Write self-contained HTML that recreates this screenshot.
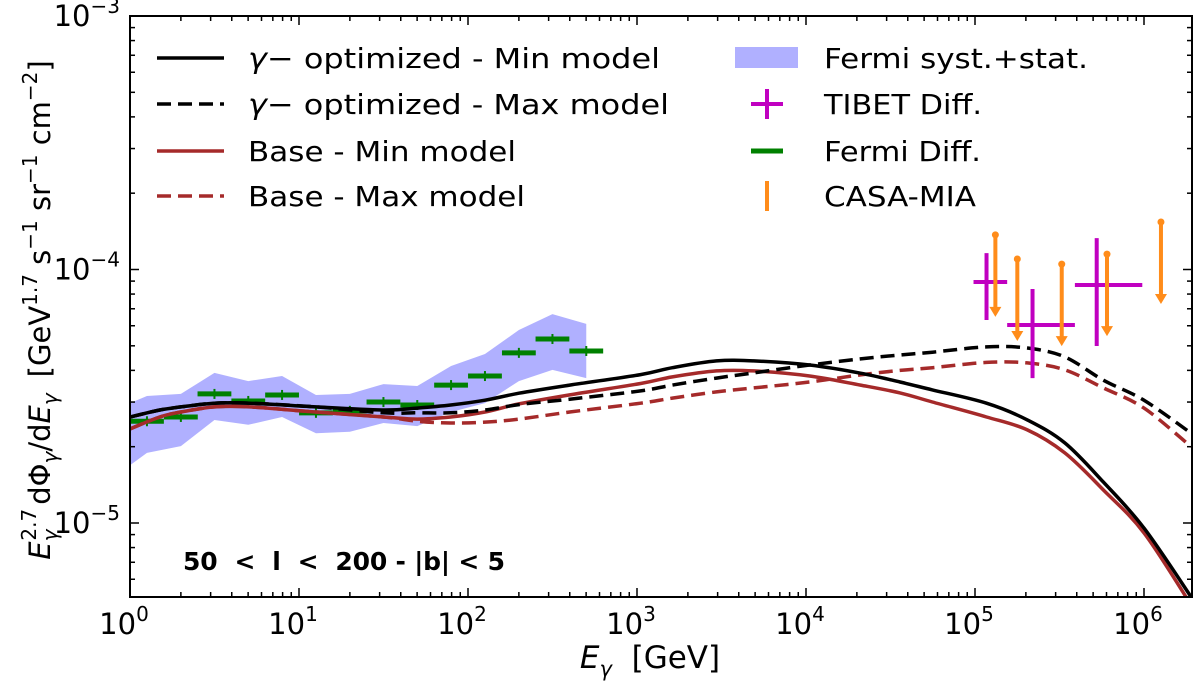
<!DOCTYPE html>
<html><head><meta charset="utf-8">
<style>
html,body{margin:0;padding:0;background:#fff;}
svg{display:block;font-family:"DejaVu Sans","Liberation Sans",sans-serif;}
</style></head>
<body>
<svg id="chart" width="1200" height="681" viewBox="0 0 1200 681" xmlns="http://www.w3.org/2000/svg">
<defs><clipPath id="clip"><rect x="130" y="16" width="1062" height="581"/></clipPath></defs>
<g id="plot" clip-path="url(#clip)"></g>
<g id="axes"></g>
<text x="183" y="570" font-size="25" font-weight="bold" textLength="322" lengthAdjust="spacing" xml:space="preserve">50  &lt;  l  &lt;  200 - |b| &lt; 5</text>
<text x="650" y="668" font-size="31" text-anchor="middle" xml:space="preserve"><tspan font-style="italic">E</tspan><tspan font-style="italic" font-size="21" dy="8">γ</tspan><tspan dy="-8">  [GeV]</tspan></text>
<text transform="translate(50,310) rotate(-90)" font-size="29" text-anchor="middle"><tspan font-style="italic">E</tspan><tspan font-style="italic" font-size="20" dy="7">γ</tspan><tspan font-size="20" dy="-21" dx="-11">2.7</tspan><tspan dy="14" dx="4">dΦ</tspan><tspan font-style="italic" font-size="20" dy="7">γ</tspan><tspan dy="-7">/d</tspan><tspan font-style="italic">E</tspan><tspan font-style="italic" font-size="20" dy="7">γ</tspan><tspan dy="-7" dx="16">[GeV</tspan><tspan font-size="20" dy="-13">1.7</tspan><tspan dy="13"> s</tspan><tspan font-size="20" dy="-13">−1</tspan><tspan dy="13"> sr</tspan><tspan font-size="20" dy="-13">−1</tspan><tspan dy="13"> cm</tspan><tspan font-size="20" dy="-13">−2</tspan><tspan dy="13">]</tspan></text>
<g id="legend" font-size="28"></g>
</svg>
<script>
// ---- data (flux in units of 1e-5) ----
const modelE = [1,1.5,2,3.16,5.1,12.6,31.6,50,79,126,200,400,1050,1620,2950,4900,10500,21000,36000,56000,117000,204000,340000,575000,1e6,1.9e6];
const gammaMin = [2.62,2.79,2.87,2.97,2.97,2.87,2.79,2.84,2.92,3.05,3.25,3.5,3.85,4.1,4.36,4.36,4.2,3.9,3.6,3.35,2.97,2.55,2.07,1.45,0.955,0.511];
const gammaMax = [2.62,2.79,2.87,2.97,2.97,2.87,2.72,2.72,2.72,2.79,2.93,3.08,3.32,3.5,3.73,3.91,4.2,4.44,4.6,4.72,4.95,4.9,4.52,3.66,3.05,2.26];
const baseMin = [2.35,2.62,2.74,2.87,2.87,2.74,2.62,2.57,2.62,2.74,2.95,3.2,3.55,3.77,3.98,3.98,3.8,3.5,3.26,3.0,2.62,2.33,1.89,1.35,0.914,0.475];
const baseMax = [2.35,2.62,2.74,2.87,2.87,2.74,2.62,2.52,2.48,2.5,2.57,2.74,2.97,3.11,3.29,3.41,3.6,3.84,4.0,4.1,4.3,4.28,4.02,3.41,2.84,2.0];
const bandE = [1,1.26,2,3.16,5.01,7.94,12.6,20,31.6,50.1,79.4,126,200,316,501];
const bandLow = [1.69,1.89,2.01,2.55,2.44,2.62,2.26,2.29,2.48,2.41,2.74,2.97,3.63,4.02,3.73];
const bandHigh = [2.97,3.17,3.23,3.91,3.63,3.8,3.2,3.23,3.53,3.47,4.16,4.64,5.77,6.67,6.1];
const fermiE = [1.26,2,3.16,5.01,7.94,12.6,20,31.6,50.1,79.4,126,200,316,501];
const fermiV = [2.52,2.62,3.23,3.03,3.2,2.72,2.77,3.0,2.92,3.5,3.8,4.69,5.32,4.77];
const tibetE = [117000,219000,525000];
const tibetElo = [98000,155000,390000];
const tibetEhi = [155000,390000,977000];
const tibetV = [8.93,6.04,8.69];
const tibetVlo = [6.32,3.73,4.99];
const tibetVhi = [11.6,8.38,13.3];
const casaE = [132000,178000,326000,604000,1260000];
const casaV = [13.7,11.0,10.5,11.5,15.4];
const xTickLabels = ["0","1","2","3","4","5","6"];
const yTickLabels = ["-5","-4","-3"];

// ---- axes functions ----
const X0=130, X1=1192, Y0=16, Y1=597, DEC_X=169, DEC_Y=253.5;
function sx(E){return X0+Math.log10(E)*DEC_X;}
function sy(v){return Y0+(-3-Math.log10(v*1e-5))*DEC_Y;}
const NS="http://www.w3.org/2000/svg";
function mk(tag,attrs,parent){const e=document.createElementNS(NS,tag);for(const k in attrs)e.setAttribute(k,attrs[k]);parent.appendChild(e);return e;}
const plot=document.getElementById('plot'), axes=document.getElementById('axes'), legend=document.getElementById('legend');

// band
let pts=[];
bandE.forEach((e,i)=>pts.push(sx(e)+','+sy(bandHigh[i])));
for(let i=bandE.length-1;i>=0;i--)pts.push(sx(bandE[i])+','+sy(bandLow[i]));
const band=mk('polygon',{points:pts.join(' '),fill:'#b0b0ff',stroke:'none'},plot);



// fermi points
fermiE.forEach((e,i)=>{
  const g=mk('g',{},plot);
  
  
  const y=sy(fermiV[i]);
  mk('line',{x1:sx(e/1.259),x2:sx(e*1.259),y1:y,y2:y,stroke:'#008000','stroke-width':5},g);
  mk('line',{x1:sx(e),x2:sx(e),y1:y-5,y2:y+5,stroke:'#008000','stroke-width':2},g);
});

// model lines (smoothed with Catmull-Rom)
function line(vals,color,dash,name){
  const P=modelE.map((e,i)=>[sx(e),sy(vals[i])]);
  let d='M'+P[0][0].toFixed(1)+','+P[0][1].toFixed(1);
  for(let i=0;i<P.length-1;i++){
    const p0=P[Math.max(0,i-1)],p1=P[i],p2=P[i+1],p3=P[Math.min(P.length-1,i+2)];
    const c1=[p1[0]+(p2[0]-p0[0])/6,p1[1]+(p2[1]-p0[1])/6];
    const c2=[p2[0]-(p3[0]-p1[0])/6,p2[1]-(p3[1]-p1[1])/6];
    d+=' C'+c1[0].toFixed(1)+','+c1[1].toFixed(1)+' '+c2[0].toFixed(1)+','+c2[1].toFixed(1)+' '+p2[0].toFixed(1)+','+p2[1].toFixed(1);
  }
  const p=mk('path',{d:d,fill:'none',stroke:color,'stroke-width':3.5},plot);
  if(dash)p.setAttribute('stroke-dasharray','14,7');
  
  
}
line(baseMax,'#a52a2a',true,'base-max-line');
line(baseMin,'#a52a2a',false,'base-min-line');
line(gammaMax,'#000',true,'gamma-max-line');
line(gammaMin,'#000',false,'gamma-min-line');

// TIBET
tibetE.forEach((e,i)=>{
  const g=mk('g',{},plot);
  
  
  const x=sx(e),y=sy(tibetV[i]);
  mk('line',{x1:sx(tibetElo[i]),x2:sx(tibetEhi[i]),y1:y,y2:y,stroke:'#c000c0','stroke-width':4},g);
  mk('line',{x1:x,x2:x,y1:sy(tibetVhi[i]),y2:sy(tibetVlo[i]),stroke:'#c000c0','stroke-width':4},g);
});
// CASA-MIA upper limits
casaE.forEach((e,i)=>{
  const g=mk('g',{},plot);
  
  
  const x=sx(e),y=sy(casaV[i]),yb=y+80;
  mk('line',{x1:x,x2:x,y1:y,y2:yb-6,stroke:'#ff8c1a','stroke-width':4},g);
  mk('polygon',{points:`${x-6},${yb-8} ${x+6},${yb-8} ${x},${yb+2}`,fill:'#ff8c1a'},g);
  mk('circle',{cx:x,cy:y,r:3.5,fill:'#ff8c1a'},g);
});

// axes frame
const frame=mk('rect',{x:X0,y:Y0,width:X1-X0,height:Y1-Y0,fill:'none',stroke:'#000','stroke-width':2},axes);


// x ticks
for(let d=0;d<=6;d++){
  for(let m=1;m<10;m++){
    const x=X0+(d+Math.log10(m))*DEC_X;
    if(x>X1+0.5)continue;
    const L=m===1?9:5;
    mk('line',{x1:x,x2:x,y1:Y1,y2:Y1-L,stroke:'#000','stroke-width':1.5},axes);
    mk('line',{x1:x,x2:x,y1:Y0,y2:Y0+L,stroke:'#000','stroke-width':1.5},axes);
  }
}
xTickLabels.forEach((s,i)=>{
  const t=mk('text',{x:X0+i*DEC_X-6,y:634,'font-size':29,'text-anchor':'middle'},axes);
  
  
  t.innerHTML='10<tspan font-size="20" dy="-13">'+s+'</tspan>';
});
// y ticks
for(let d=-6;d<=-3;d++){
  for(let m=1;m<10;m++){
    const y=Y0+(-3-(d+Math.log10(m)))*DEC_Y;
    if(y<Y0-0.5||y>Y1+0.5)continue;
    const L=m===1?9:5;
    mk('line',{x1:X0,x2:X0+L,y1:y,y2:y,stroke:'#000','stroke-width':1.5},axes);
    mk('line',{x1:X1,x2:X1-L,y1:y,y2:y,stroke:'#000','stroke-width':1.5},axes);
  }
}
yTickLabels.forEach((s,i)=>{
  const y=Y0+(-3-parseInt(s))*DEC_Y;
  const t=mk('text',{x:120,y:y+10,'font-size':29,'text-anchor':'end'},axes);
  
  
  t.innerHTML='10<tspan font-size="20" dy="-13">−'+s.slice(1)+'</tspan>';
});

// legend
const leftRows=[
  ['γ−  optimized - Min model','#000',false,'legend-gamma-min',412],
  ['γ−  optimized - Max model','#000',true,'legend-gamma-max',421],
  ['Base - Min model','#a52a2a',false,'legend-base-min',268],
  ['Base - Max model','#a52a2a',true,'legend-base-max',277]];
const rowY=[58,104,151,196];
leftRows.forEach((r,i)=>{
  const g=mk('g',{},legend);
  
  
  const l=mk('line',{x1:157,x2:224,y1:rowY[i],y2:rowY[i],stroke:r[1],'stroke-width':3.5},g);
  if(r[2])l.setAttribute('stroke-dasharray','14,7');
  const t=mk('text',{x:248,y:rowY[i]+10,textLength:r[4],lengthAdjust:'spacingAndGlyphs'},g);
  if(i<2){t.setAttribute('xml:space','preserve');t.innerHTML='<tspan font-style="italic">γ</tspan>−   optimized - '+(i?'Max':'Min')+' model';}
  else t.textContent=r[0];
});
const rightNames=['legend-fermi-band','legend-tibet','legend-fermi-diff','legend-casa-mia'];
const rightText=['Fermi syst.+stat.','TIBET Diff.','Fermi Diff.','CASA-MIA'];
const rightW=[264,158,157,152];
rightText.forEach((s,i)=>{
  const g=mk('g',{},legend);
  
  
  const y=rowY[i];
  if(i===0)mk('rect',{x:735,y:47,width:63,height:21,fill:'#b0b0ff'},g);
  if(i===1){mk('line',{x1:751,x2:783,y1:y,y2:y,stroke:'#c000c0','stroke-width':4},g);mk('line',{x1:767,x2:767,y1:y-15,y2:y+15,stroke:'#c000c0','stroke-width':4},g);}
  if(i===2){mk('line',{x1:751,x2:783,y1:y,y2:y,stroke:'#008000','stroke-width':5},g);}
  if(i===3){mk('line',{x1:767,x2:767,y1:y-15,y2:y+15,stroke:'#ff8c1a','stroke-width':4},g);}
  const t=mk('text',{x:824,y:y+10,textLength:rightW[i],lengthAdjust:'spacingAndGlyphs'},g);
  t.textContent=s;
});
</script>
</body></html>
